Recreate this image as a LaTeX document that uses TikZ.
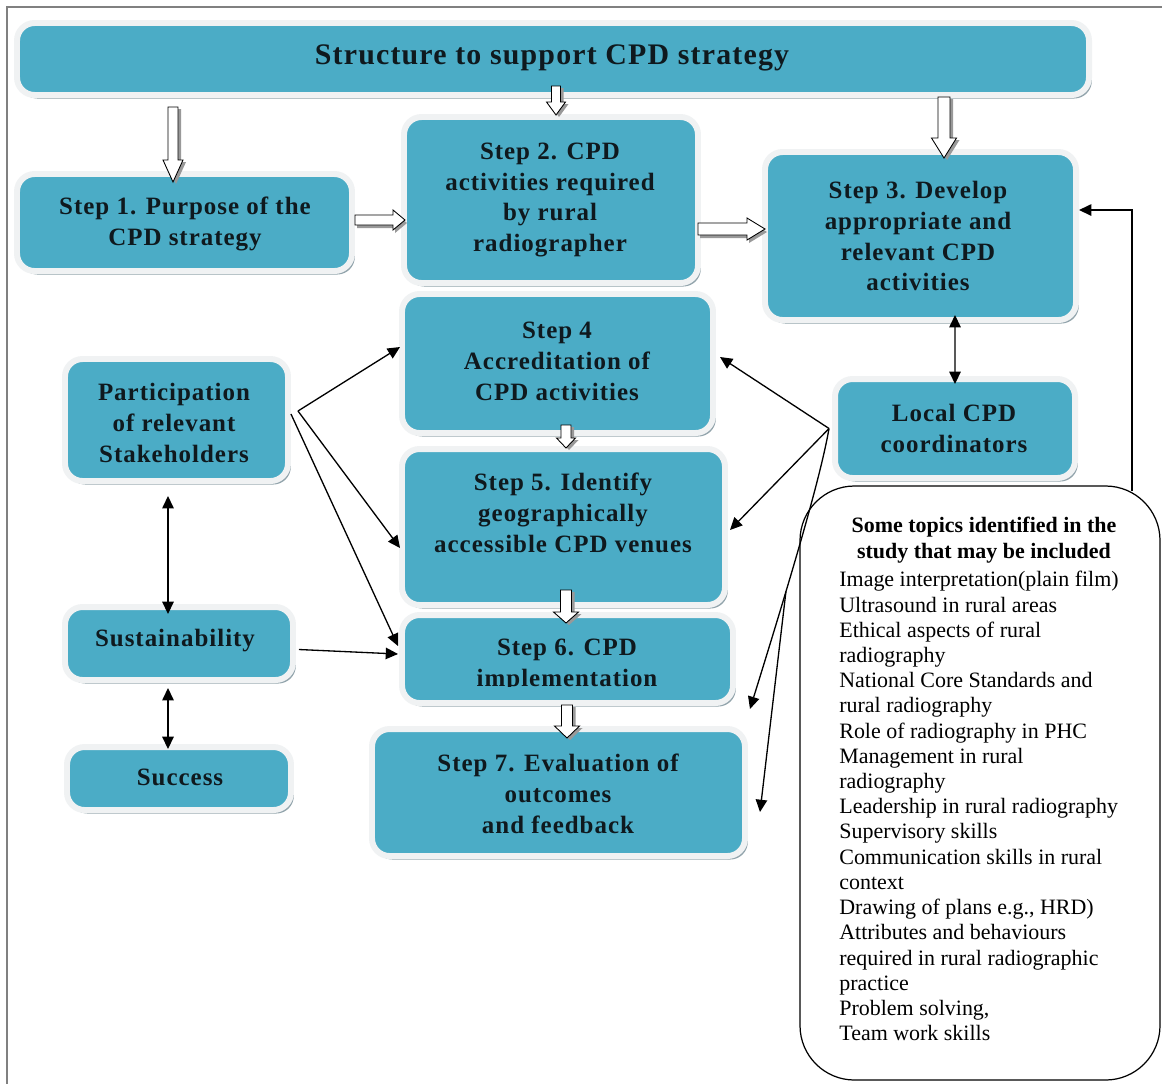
\documentclass[tikz,border=0pt]{standalone}
\usepackage{fontspec}
\setmainfont{Liberation Serif}
\newfontfamily\boxfont{Liberation Serif}[LetterSpace=4.0]
\usetikzlibrary{arrows.meta,shadows,fit,calc}
\definecolor{teal1}{RGB}{75,172,198}
\definecolor{band}{RGB}{240,242,243}
\definecolor{txt}{RGB}{15,25,30}
\definecolor{shd}{RGB}{135,155,163}
\definecolor{framecol}{RGB}{128,128,128}
\tikzset{
 cbox/.style={inner sep=0pt, rounded corners=10pt, fill=teal1, draw=band, line width=3.4pt,
   drop shadow={shadow xshift=1.6pt, shadow yshift=-2pt, fill=shd, opacity=0.9}},
 btext/.style={font=\boxfont\bfseries\fontsize{14.2}{17.6}\selectfont, align=center, text=txt, inner sep=0pt},
 ttext/.style={font=\boxfont\bfseries\fontsize{17}{20}\selectfont, align=center, text=txt, inner sep=0pt},
 conn/.style={line width=0.75pt, -{Triangle[length=7pt,width=6.5pt]}},
 bconn/.style={line width=0.75pt, {Triangle[length=7pt,width=6.5pt]}-{Triangle[length=7pt,width=6.5pt]}},
 barrow/.style={draw=black, line width=0.5pt, fill=white},
 bshadow/.style={fill=gray!80},
 topicbox/.style={draw=black, line width=0.7pt, fill=white, rounded corners=31pt, inner sep=0pt},
}
\newcommand{\varrpath}[6]{({#1-#4/2},#2) -- ({#1+#4/2},#2) -- ({#1+#4/2},{#3-#6}) -- ({#1+#5/2},{#3-#6}) -- (#1,#3) -- ({#1-#5/2},{#3-#6}) -- ({#1-#4/2},{#3-#6}) -- cycle}
\newcommand{\varr}[6]{\fill[bshadow,shift={(3,2)}] \varrpath{#1}{#2}{#3}{#4}{#5}{#6};
  \draw[barrow] \varrpath{#1}{#2}{#3}{#4}{#5}{#6};}
\newcommand{\harrpath}[6]{(#2,{#1-#4/2}) -- ({#3-#6},{#1-#4/2}) -- ({#3-#6},{#1-#5/2}) -- (#3,#1) -- ({#3-#6},{#1+#5/2}) -- ({#3-#6},{#1+#4/2}) -- (#2,{#1+#4/2}) -- cycle}
\newcommand{\harr}[6]{\fill[bshadow,shift={(2,3)}] \harrpath{#1}{#2}{#3}{#4}{#5}{#6};
  \draw[barrow] \harrpath{#1}{#2}{#3}{#4}{#5}{#6};}
\begin{document}
\begin{tikzpicture}[x=0.02cm,y=-0.02cm]
\clip (0,0) rectangle (1162,1083);
\fill[white] (0,0) rectangle (1162,1083);
\draw[framecol, line width=0.6pt] (7,1100) -- (7,7) -- (1170,7);

% boxes
\node[cbox, fit={(17,23) (1089,95)}] (top) {};
\node[cbox, fit={(17,174) (352,271)}] (s1) {};
\node[cbox, fit={(404,117) (698,283)}] (s2) {};
\node[cbox, fit={(765,152) (1076,320)}] (s3) {};
\node[cbox, fit={(835,379) (1075,478)}] (loc) {};
\node[cbox, fit={(402,294) (713,433)}] (s4) {};
\node[cbox, fit={(402,449) (725,605)}] (s5) {};
\node[cbox, fit={(402,615) (733,703)}] (s6) {};
\node[cbox, fit={(372,729) (745,856)}] (s7) {};
\node[cbox, fit={(65,359) (288,481)}] (part) {};
\node[cbox, fit={(65,607) (293,680)}] (sus) {};
\node[cbox, fit={(67,747) (291,810)}] (suc) {};

% texts
\node[ttext] (topt) at (552,58) {Structure to support CPD strategy};
\node[btext] (s1t) at (185,224) {Step 1. Purpose of the\\CPD strategy};
\node[btext] (s2t) at (550,200) {Step 2. CPD\\activities required\\by rural\\radiographer};
\node[btext] (s3t) at (918,236) {Step 3. Develop\\appropriate and\\relevant CPD\\activities};
\node[btext] (loct) at (954,428) {Local CPD\\coordinators};
\node[btext] (s4t) at (557,361) {Step 4\\Accreditation of\\CPD activities};
\node[btext] (s5t) at (563,513) {Step 5. Identify\\geographically\\accessible CPD venues};
\begin{scope}
\clip (402,600) rectangle (733,686);
\node[btext] (s6t) at (567,665) {Step 6. CPD\\implementation};
\end{scope}
\node[btext] (s7t) at (558,794) {Step 7. Evaluation of\\outcomes\\and feedback};
\node[btext] (partt) at (174,423) {Participation\\of relevant\\Stakeholders};
\node[btext] (sust) at (175,641) {Sustainability};
\node[btext] (suct) at (180,777) {Success};

% topics box
\node[topicbox, fit={(800,486) (1160,1080)}] (topics) {};
\node[font=\bfseries\fontsize{12.5}{14.7}\selectfont, align=center, inner sep=0pt] (topt2) at (984,540) {Some topics identified in the\\study that may be included};
\node[font=\fontsize{12.5}{14.35}\selectfont, align=left, inner sep=0pt, anchor=north west] (list) at (839,571) {Image interpretation(plain film)\\Ultrasound in rural areas\\Ethical aspects of rural\\radiography\\National Core Standards and\\rural radiography\\Role of radiography in PHC\\Management in rural\\radiography\\Leadership in rural radiography\\Supervisory skills\\Communication skills in rural\\context\\Drawing of plans e.g., HRD)\\Attributes and behaviours\\required in rural radiographic\\practice\\Problem solving,\\Team work skills};

% block arrows
\varr{173}{107}{182}{10}{20}{22}
\varr{556}{86}{115}{9}{19}{13}
\varr{944}{97}{158}{12}{25}{20}
\harr{220}{355}{405}{10}{20}{12}
\harr{229}{698}{765}{12}{22}{18}
\varr{566}{425}{448}{10}{19}{10}
\varr{566}{590}{623}{11}{25}{11}
\varr{567}{705}{738}{11}{25}{12}

% coordinates
\coordinate (pj1) at ($(part.east)+(7,-9)$);
\coordinate (pj2) at ($(part.east)+(0,-6)$);
\coordinate (sj) at ($(sus.east)+(3,6)$);
\coordinate (lj) at ($(loc.west)+(-3,0)$);
\coordinate (fb) at (1132,491);

% thin connectors
\draw[conn] (pj1) -- ($(s4.west)+(1,-16.5)$);
\draw[conn] (pj1) -- ($(s5.west)+(1,21)$);
\draw[conn] (pj2) -- ($(s6.west)+(-1,-13)$);
\draw[conn] (sj) -- ($(s6.west)+(-1,-5)$);
\draw[conn] (lj) -- ($(s4.east)+(4,-6.5)$);
\draw[conn] (lj) -- ($(s5.east)+(2,3)$);
\draw[conn] (lj) .. controls (820,480) and (790,580) .. coordinate[pos=0.67] (lb) ($(s6.south east)+(14,3)$);
\draw[conn] (lb) -- ($(s7.east)+(12,19.5)$);
\draw[bconn] ($(s3.south)+(34.5,-8)$) -- ($(loc.north)+(0,8)$);
\draw[bconn] ($(part.south)+(-8.5,12)$) -- ($(sus.north)+(-11,10)$);
\draw[bconn] ($(sus.south)+(-11,5)$) -- ($(suc.north)+(-11,5)$);
\draw[conn] (fb) |- ($(s3.east)+(0,-26)$);
\end{tikzpicture}
\end{document}
